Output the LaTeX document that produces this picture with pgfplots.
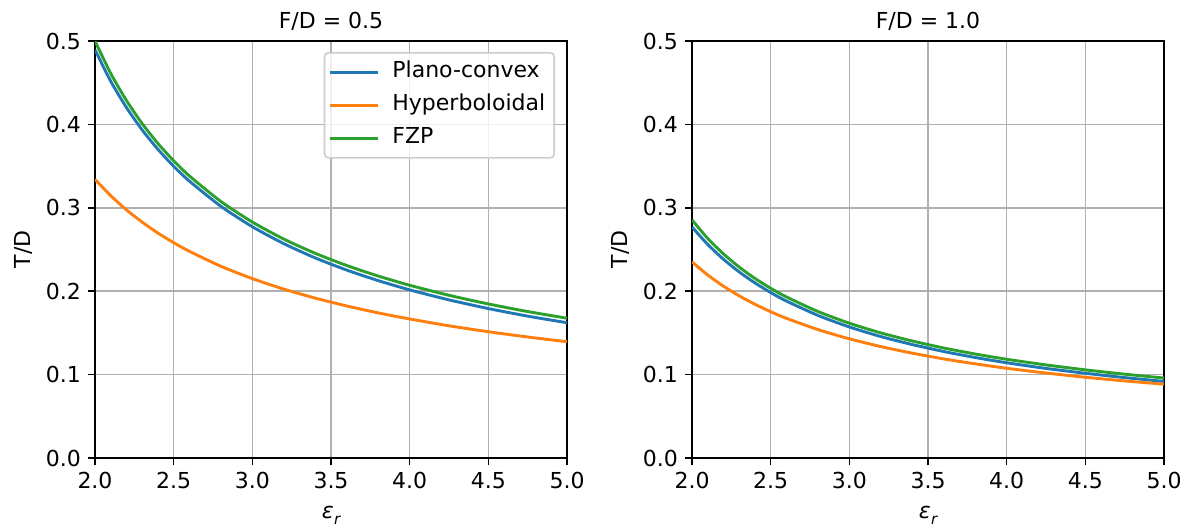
\documentclass[border=0pt]{standalone}
\usepackage{fontspec}
\setmainfont{DejaVu Sans}
\usepackage{pgfplots}
\usepackage{pgfplotstable}
\pgfplotsset{compat=1.18}
\definecolor{tabblue}{HTML}{1F77B4}
\definecolor{taborange}{HTML}{FF7F0E}
\definecolor{tabgreen}{HTML}{2CA02C}
\definecolor{gridgray}{HTML}{B0B0B0}

\pgfplotstableread{
er     pc      hyp     fzp
2.0    0.4895  0.3341  0.5000
2.1    0.4517  0.3145  0.4611
2.2    0.4202  0.2975  0.4286
2.3    0.3933  0.2828  0.4009
2.4    0.3701  0.2697  0.3771
2.5    0.3498  0.2582  0.3564
2.6    0.3320  0.2478  0.3382
2.8    0.3018  0.2299  0.3076
3.0    0.2773  0.2151  0.2829
3.2    0.2570  0.2025  0.2625
3.4    0.2399  0.1917  0.2454
3.6    0.2253  0.1823  0.2308
3.8    0.2127  0.1740  0.2182
4.0    0.2016  0.1667  0.2071
4.25   0.1896  0.1585  0.1951
4.5    0.1792  0.1514  0.1847
4.75   0.1701  0.1451  0.1756
5.0    0.1622  0.1394  0.1676
}\tableA

\pgfplotstableread{
er     pc      hyp     fzp
2.0    0.2770  0.2351  0.2855
2.1    0.2560  0.2194  0.2632
2.2    0.2383  0.2060  0.2447
2.3    0.2231  0.1944  0.2289
2.4    0.2099  0.1843  0.2153
2.5    0.1984  0.1754  0.2035
2.6    0.1882  0.1675  0.1931
2.8    0.1710  0.1540  0.1757
3.0    0.1571  0.1429  0.1616
3.2    0.1456  0.1336  0.1500
3.4    0.1360  0.1257  0.1403
3.6    0.1277  0.1188  0.1319
3.8    0.1205  0.1129  0.1247
4.0    0.1142  0.1076  0.1184
4.25   0.1074  0.1019  0.1116
4.5    0.1016  0.0968  0.1057
4.75   0.0964  0.0924  0.1005
5.0    0.0918  0.0885  0.0959
}\tableB

\pgfplotsset{
  myaxis/.style={
    scale only axis,
    width=236pt, height=208.5pt,
    xmin=2, xmax=5, ymin=0, ymax=0.5,
    xtick={2,2.5,...,5}, ytick={0,0.1,...,0.5},
    xticklabel style={/pgf/number format/fixed, /pgf/number format/fixed zerofill, /pgf/number format/precision=1},
    yticklabel style={/pgf/number format/fixed, /pgf/number format/fixed zerofill, /pgf/number format/precision=1},
    /pgf/number format/assume math mode=true,
    tick label style={font=\fontsize{11}{13}\selectfont},
    grid=major,
    major grid style={line width=0.8pt, draw=gridgray},
    axis line style={line width=0.8pt, black},
    every tick/.style={line width=0.8pt, black},
    tick align=outside, major tick length=3.5pt,
    xtick pos=bottom, ytick pos=left,
    xlabel={\itshape ε\kern0.2pt\raisebox{-0.45ex}{\fontsize{7.5}{8}\selectfont r}},
    ylabel={T/D},
    every axis x label/.style={at={(axis description cs:0.5,-0.137)}, anchor=center, font=\fontsize{11}{13}\selectfont},
    every axis y label/.style={at={(axis description cs:-0.1525,0.5)}, anchor=center, rotate=90, font=\fontsize{11}{13}\selectfont},
    every axis title/.style={at={(axis description cs:0.5,1.047)}, anchor=center, font=\fontsize{11}{13}\selectfont},
    every axis plot/.append style={line width=1.45pt, no markers, line join=round, smooth, tension=0.4},
  }
}

\begin{document}
\begin{tikzpicture}
\path (-47.5pt,-34.5pt) rectangle (548.5pt,229pt);
\begin{axis}[myaxis, at={(0pt,0pt)}, anchor=origin,
  title={F/D = 0.5},
  legend cell align=left,
  legend image code/.code={\draw[#1, sharp plot] (0pt,0pt) -- (24pt,0pt);},
  legend style={at={(axis description cs:1,1)}, anchor=north east, xshift=-6pt, yshift=-5.5pt,
    draw=black!20, line width=0.8pt, rounded corners=2pt, fill=white, fill opacity=0.8, text opacity=1, draw opacity=1,
    font=\fontsize{11}{13}\selectfont,
    inner xsep=2pt, inner ysep=1.5pt, column sep=4pt,
    nodes={text height=8pt, text depth=2.5pt, inner ysep=3pt, inner xsep=2.5pt}},
]
\addplot[tabblue] table[x=er,y=pc] {\tableA};
\addlegendentry{Plano-convex}
\addplot[taborange] table[x=er,y=hyp] {\tableA};
\addlegendentry{Hyperboloidal}
\addplot[tabgreen] table[x=er,y=fzp] {\tableA};
\addlegendentry{FZP}
\end{axis}
\begin{axis}[myaxis, at={(298.5pt,0pt)}, anchor=origin,
  title={F/D = 1.0},
]
\addplot[tabblue] table[x=er,y=pc] {\tableB};
\addplot[taborange] table[x=er,y=hyp] {\tableB};
\addplot[tabgreen] table[x=er,y=fzp] {\tableB};
\end{axis}
\end{tikzpicture}
\end{document}
